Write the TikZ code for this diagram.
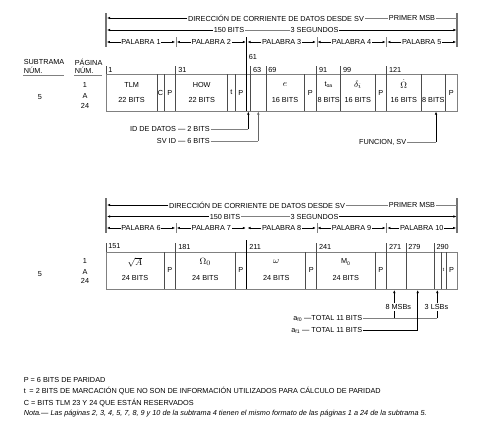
\documentclass[tikz,border=0pt]{standalone}
\usepackage{fontspec}
\setmainfont{Liberation Sans}
\usetikzlibrary{arrows.meta, positioning, calc}
\tikzset{txt/.style={font=\fontsize{7.3}{8}\selectfont, inner sep=0.6pt, text=black},
    sym/.style={txt, font=\fontsize{9.5}{10}\selectfont},
    bar/.style={draw=black!55, line width=1.4pt},
    hint/.style={draw=black!50, line width=0.4pt},
    cellline/.style={draw=black!70, line width=0.5pt},
    bound/.style={draw=black, line width=1.1pt},
    thkarrow/.style={draw=black, line width=0.9pt, -{Latex[length=3.2pt,width=2.6pt]}},
    lead/.style={draw=black, line width=0.8pt, -{Latex[length=3.2pt,width=2.6pt]}},
    thinlead/.style={draw=black!60, line width=0.5pt, -{Latex[length=3.2pt,width=2.6pt]}},
    wordtip/.style={draw=black, line width=0.6pt, -{Latex[length=3pt,width=2.4pt]}}}

\begin{document}
\begin{tikzpicture}[x=1pt,y=-1pt]
\useasboundingbox (0,0) rectangle (495,423);

% Column captions on the left
\node[txt,anchor=west] (subtit) at (23,62) {SUBTRAMA};
\node[txt,anchor=west] (subnum) at (23,70.5) {NÚM.};
\draw[hint] (23,75) -- (64,75);
\node[txt,anchor=west] (pagtit) at (74,62) {PÁGINA};
\node[txt,anchor=west] (pagnum) at (74,70.5) {NÚM.};
\draw[hint] (74,75) -- (102,75);

% ---------------- upper frame (words 1 to 5) ----------------
\draw[bar] (106,13) -- (106,47);
\draw[bar] (457,13) -- (457,47);

\node[txt] (dirA) at (276,18) {DIRECCIÓN DE CORRIENTE DE DATOS DESDE SV};
\node[txt] (msbA) at (412,18) {PRIMER MSB};
\coordinate (lA1) at (107,18);
\coordinate (rA1) at (457,18);
\draw[thkarrow] (dirA) -- (lA1);
\draw[hint] (dirA) -- (msbA);
\draw[hint] (msbA) -- (rA1);

\node[txt] (bitsA) at (229,30) {150 BITS};
\node[txt] (segA) at (314.5,30) {3 SEGUNDOS};
\coordinate (lA2) at (107,30);
\coordinate (rA2) at (456.5,30);
\draw[thkarrow] (bitsA) -- (lA2);
\draw[hint] (bitsA) -- (segA);
\draw[thkarrow] (segA) -- (rA2);

\foreach \n/\a/\b in {1/106/176, 2/176/246.7, 3/246.7/316.7, 4/316.7/386.5, 5/386.5/457} {
  \node[txt] (w\n) at ({(\a+\b)/2},42) {PALABRA \n};
  \draw[wordtip] (w\n) -- (\a+0.8,42);
  \draw[wordtip] (w\n) -- (\b-0.8,42);
}
\foreach \x in {176,316.7,386.5}
  \draw[hint] (\x,37) -- (\x,47);

% cells
\draw[cellline, draw=black!50] (106,74) rectangle (457,111);
\foreach \x in {157.3,164,175.7,227.7,235,250.7,266,304,316.7,340.7,375,386.7,421,445.7}
  \draw[cellline] (\x,74) -- (\x,111);
\foreach \x in {106,175.7,250.7,266,316.7,340.7,386.7}
  \draw[cellline] (\x,66) -- (\x,74);
\draw[bound] (246.7,37) -- (246.7,111);

\foreach \x/\t/\y in {107.5/1/69.5, 177.5/31/69.5, 248/61/57, 252.3/63/69.5, 267.5/69/69.5,
    318.3/91/69.5, 342.3/99/69.5, 388.3/121/69.5}
  \node[txt,anchor=west] at (\x,\y) {\t};

\node[txt] (sfA) at (40,97) {5};
\node[txt] (pgA1) at (85,85) {1};
\node[txt] (pgA2) at (85,96) {A};
\node[txt] (pgA3) at (85,106) {24};

\node[txt] (tlm) at (131.6,85) {TLM};
\node[txt] at (131.6,100) {22 BITS};
\node[txt] at (160.6,92.5) {C};
\node[txt] at (169.8,92.5) {P};
\node[txt] (how) at (201.7,85) {HOW};
\node[txt] at (201.7,100) {22 BITS};
\node[txt] at (231.3,92.5) {t};
\node[txt] at (240.8,92.5) {P};
\node[sym] (ecc) at (285,85) {$e$};
\node[txt] at (285,100) {16 BITS};
\node[txt] at (310.3,92.5) {P};
\node[txt] (toa) at (328.7,85) {t\textsubscript{oa}};
\node[txt] at (328.7,100) {8 BITS};
\node[sym] (deli) at (357.8,85) {$\delta_i$};
\node[txt] at (357.8,100) {16 BITS};
\node[txt] at (380.8,92.5) {P};
\node[sym] (omd) at (403.8,84) {$\dot{\Omega}$};
\node[txt] at (403.8,100) {16 BITS};
\node[txt] at (433.3,100) {8 BITS};
\node[txt] at (451.3,92.5) {P};

% notes under the upper frame
\node[txt,anchor=east] (iddat) at (210.5,129.3) {ID DE DATOS — 2 BITS};
\node[txt,anchor=east] (svid) at (210.5,140.7) {SV ID — 6 BITS};
\node[txt,anchor=east] (func) at (407,142) {FUNCION, SV};
\coordinate (c61) at (248.3,111.5);
\coordinate (c63) at (258.3,111.5);
\coordinate (c129) at (436,111.5);
\draw[hint] (iddat.east) -- (iddat.east -| c61);
\draw[lead] (iddat.east -| c61) -- (c61);
\draw[hint] (svid.east) -- (svid.east -| c63);
\draw[thinlead] (svid.east -| c63) -- (c63);
\draw[hint] (func.east) -- (func.east -| c129);
\draw[lead] (func.east -| c129) -- (c129);

% ---------------- lower frame (words 6 to 10) ----------------
\draw[bar] (106,198) -- (106,233);
\draw[bar] (457,198) -- (457,233);

\node[txt] (dirB) at (257,205) {DIRECCIÓN DE CORRIENTE DE DATOS DESDE SV};
\node[txt] (msbB) at (412,205) {PRIMER MSB};
\coordinate (lB1) at (107,205);
\coordinate (rB1) at (457,205);
\draw[thkarrow] (dirB) -- (lB1);
\draw[hint] (dirB) -- (msbB);
\draw[hint] (msbB) -- (rB1);

\node[txt] (bitsB) at (225,216.5) {150 BITS};
\node[txt] (segB) at (314.5,216.5) {3 SEGUNDOS};
\coordinate (lB2) at (107,216.5);
\coordinate (rB2) at (456.5,216.5);
\draw[thkarrow] (bitsB) -- (lB2);
\draw[hint] (bitsB) -- (segB);
\draw[thkarrow] (segB) -- (rB2);

\foreach \n/\a/\b in {6/106/176, 7/176/246.7, 8/246.7/316.7, 9/316.7/386.5, 10/386.5/457} {
  \node[txt] (w\n) at ({(\a+\b)/2},228) {PALABRA \n};
  \draw[wordtip] (w\n) -- (\a+0.8,228);
  \draw[wordtip] (w\n) -- (\b-0.8,228);
}
\foreach \x in {176,316.7,386.5}
  \draw[hint] (\x,223) -- (\x,233);

% cells
\draw[cellline, draw=black!50] (106,252) rectangle (457,289);
\foreach \x in {164,175.7,235,305.7,316.7,375,386.7,406,434.3,441,446}
  \draw[cellline] (\x,252) -- (\x,289);
\foreach \x in {106,175.7,316.7,386.7,406,434.3}
  \draw[cellline] (\x,243) -- (\x,252);
\draw[bound] (246.7,240) -- (246.7,289);

\foreach \x/\t in {107.5/151, 177.5/181, 248.5/211, 318.3/241, 388.3/271, 407.5/279, 435.8/290}
  \node[txt,anchor=west] at (\x,246.5) {\t};

\node[txt] (sfB) at (40,274) {5};
\node[txt] (pgB1) at (85,261) {1};
\node[txt] (pgB2) at (85,271.5) {A};
\node[txt] (pgB3) at (85,281) {24};

\node[sym] (sqa) at (135,262) {$\sqrt{A}$};
\node[txt] at (135,278) {24 BITS};
\node[txt] at (169.8,270) {P};
\node[sym] (om0) at (205.3,262) {$\Omega_0$};
\node[txt] at (205.3,278) {24 BITS};
\node[txt] at (240.8,270) {P};
\node[sym] (omg) at (276.2,262) {$\omega$};
\node[txt] at (276.2,278) {24 BITS};
\node[txt] at (311.2,270) {P};
\node[txt] (mzero) at (345.8,262) {M\textsubscript{0}};
\node[txt] at (345.8,278) {24 BITS};
\node[txt] at (380.8,270) {P};
\node[txt, font=\fontsize{5}{6}\selectfont] at (443.5,270) {t};
\node[txt] at (451.5,270) {P};

% notes under the lower frame
\coordinate (m8) at (394.3,290);
\coordinate (f11) at (417.7,290);
\coordinate (l3) at (437.3,290);
\node[txt,anchor=east] (af0) at (363,318.3) {a\textsubscript{f0} —TOTAL 11 BITS};
\node[txt,anchor=east] (af1) at (363,330.7) {a\textsubscript{f1} — TOTAL 11 BITS};
\draw[hint] (af0.east) -- (af0.east -| l3);
\draw[lead] (af0.east -| m8) -- (m8);
\draw[lead] (af0.east -| l3) -- (l3);
\draw[lead, -] (af1.east) -- (af1.east -| f11);
\draw[lead] (af1.east -| f11) -- (f11);
\node[txt, fill=white, inner sep=1pt] (msb8) at (398.3,307) {8 MSBs};
\node[txt, fill=white, inner sep=1pt] (lsb3) at (436.5,307) {3 LSBs};

% legend
\node[txt,anchor=west] (keyP) at (23,380) {P = 6 BITS DE PARIDAD};
\node[txt,anchor=west] (keyt) at (23,391.5) {t\enspace = 2 BITS DE MARCACIÓN QUE NO SON DE INFORMACIÓN UTILIZADOS PARA CÁLCULO DE PARIDAD};
\node[txt,anchor=west] (keyC) at (23,403) {C = BITS TLM 23 Y 24 QUE ESTÁN RESERVADOS};
\node[txt,anchor=west, font=\fontsize{7.3}{8}\selectfont\itshape] (nota) at (23,414)
  {Nota.— Las páginas 2, 3, 4, 5, 7, 8, 9 y 10 de la subtrama 4 tienen el mismo formato de las páginas 1 a 24 de la subtrama 5.};
\end{tikzpicture}
\end{document}
